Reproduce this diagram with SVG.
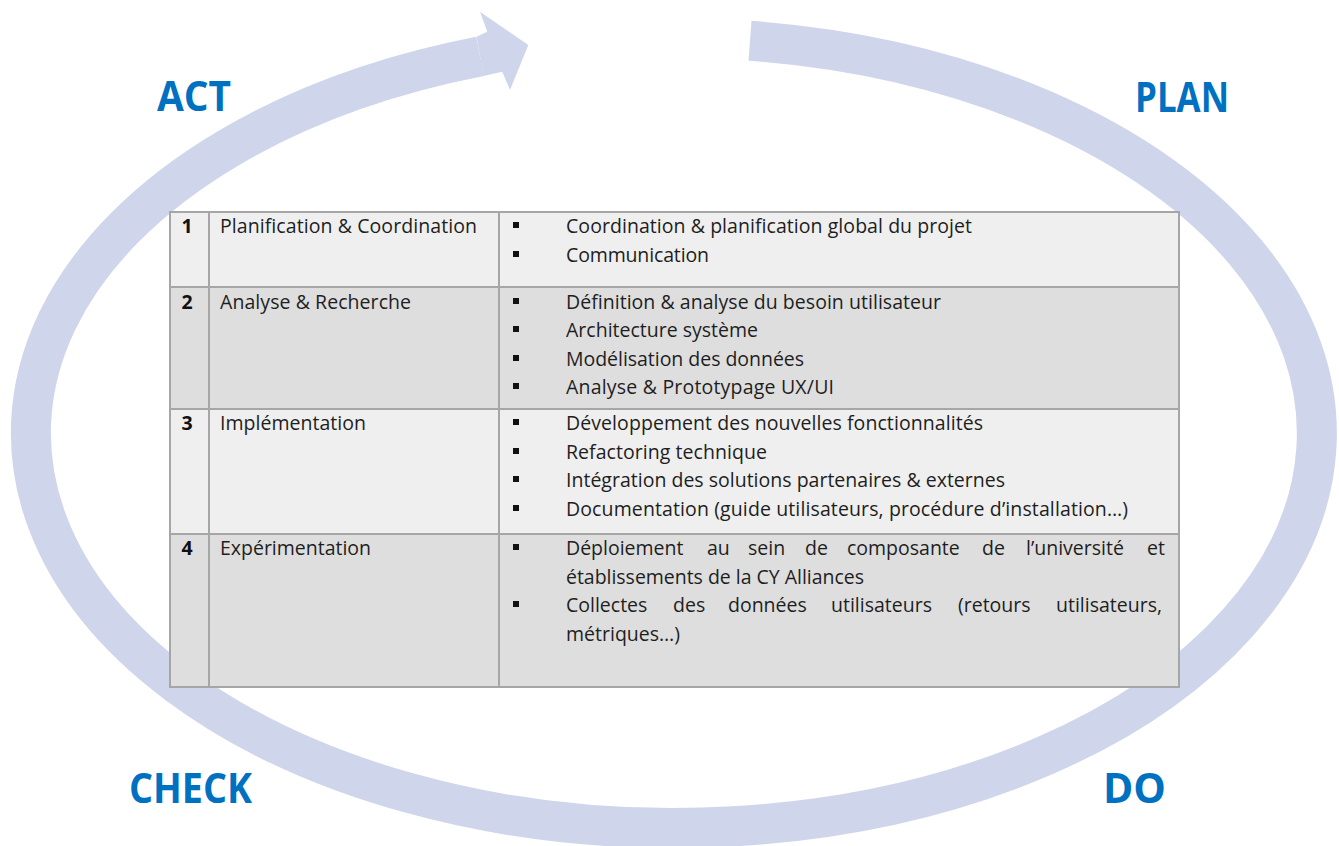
<svg xmlns="http://www.w3.org/2000/svg" width="1339" height="846" viewBox="0 0 1339 846">
<style>
.ring{fill:none;stroke:#cfd5eb;stroke-width:40;stroke-linecap:butt}
.head{fill:#cfd5eb}
.lbl{font-family:"Open Sans","Liberation Sans",sans-serif;font-weight:700;font-size:41px;fill:#0070c0}
.cell1{fill:#efefef;stroke:#a6a6a6;stroke-width:2}
.cell2{fill:#dedede;stroke:#a6a6a6;stroke-width:2}
.t{font-family:"Open Sans","Liberation Sans",sans-serif;font-size:19.5px;fill:#1e1e1e}
.n{font-family:"Open Sans","Liberation Sans",sans-serif;font-size:19.5px;font-weight:700;fill:#111;text-anchor:middle}
.b{fill:#111}
</style>
<g id="connectors">
<path class="ring" d="M 750 40.8 A 643 395 0 1 1 480 56.4"/>
<polygon class="head" points="476.5,36.7 487.3,31.7 480,11.7 528.3,45 510,90 502.3,71.7 483.5,76.1"/>
</g>
<g id="label-act"><text class="lbl" x="157" y="111" textLength="74" lengthAdjust="spacingAndGlyphs">ACT</text></g>
<g id="label-plan"><text class="lbl" x="1135" y="112" textLength="94" lengthAdjust="spacingAndGlyphs">PLAN</text></g>
<g id="label-check"><text class="lbl" x="129" y="803" textLength="123" lengthAdjust="spacingAndGlyphs">CHECK</text></g>
<g id="label-do"><text class="lbl" x="1103" y="803" textLength="63" lengthAdjust="spacingAndGlyphs">DO</text></g>
<g id="table">
<g id="row1">
<rect class="cell1" x="170" y="212" width="39" height="75"/>
<rect class="cell1" x="209" y="212" width="290" height="75"/>
<rect class="cell1" x="499" y="212" width="680" height="75"/>
<text class="n" x="187" y="233">1</text>
<text class="t" x="220" y="233" textLength="257">Planification &amp; Coordination</text>
<rect class="b" x="513" y="222" width="6" height="6"/>
<text class="t" x="566" y="233" textLength="406">Coordination &amp; planification global du projet</text>
<rect class="b" x="513" y="251" width="6" height="6"/>
<text class="t" x="566" y="262" textLength="143">Communication</text>
</g>
<g id="row2">
<rect class="cell2" x="170" y="287" width="39" height="122"/>
<rect class="cell2" x="209" y="287" width="290" height="122"/>
<rect class="cell2" x="499" y="287" width="680" height="122"/>
<text class="n" x="187" y="309">2</text>
<text class="t" x="220" y="309" textLength="191">Analyse &amp; Recherche</text>
<rect class="b" x="513" y="298" width="6" height="6"/>
<text class="t" x="566" y="309" textLength="375">Définition &amp; analyse du besoin utilisateur</text>
<rect class="b" x="513" y="326" width="6" height="6"/>
<text class="t" x="566" y="337" textLength="192">Architecture système</text>
<rect class="b" x="513" y="355" width="6" height="6"/>
<text class="t" x="566" y="366" textLength="238">Modélisation des données</text>
<rect class="b" x="513" y="383" width="6" height="6"/>
<text class="t" x="566" y="394" textLength="268">Analyse &amp; Prototypage UX/UI</text>
</g>
<g id="row3">
<rect class="cell1" x="170" y="409" width="39" height="125"/>
<rect class="cell1" x="209" y="409" width="290" height="125"/>
<rect class="cell1" x="499" y="409" width="680" height="125"/>
<text class="n" x="187" y="430">3</text>
<text class="t" x="220" y="430" textLength="146">Implémentation</text>
<rect class="b" x="513" y="419" width="6" height="6"/>
<text class="t" x="566" y="430" textLength="417">Développement des nouvelles fonctionnalités</text>
<rect class="b" x="513" y="448" width="6" height="6"/>
<text class="t" x="566" y="459" textLength="201">Refactoring technique</text>
<rect class="b" x="513" y="476" width="6" height="6"/>
<text class="t" x="566" y="487" textLength="439">Intégration des solutions partenaires &amp; externes</text>
<rect class="b" x="513" y="505" width="6" height="6"/>
<text class="t" x="566" y="516" textLength="562">Documentation (guide utilisateurs, procédure d’installation…)</text>
</g>
<g id="row4">
<rect class="cell2" x="170" y="534" width="39" height="153"/>
<rect class="cell2" x="209" y="534" width="290" height="153"/>
<rect class="cell2" x="499" y="534" width="680" height="153"/>
<text class="n" x="187" y="555">4</text>
<text class="t" x="220" y="555" textLength="151">Expérimentation</text>
<rect class="b" x="513" y="544" width="6" height="6"/>
<text class="t" y="555"><tspan x="566">Déploiement</tspan> <tspan x="707">au</tspan> <tspan x="748">sein</tspan> <tspan x="805">de</tspan> <tspan x="847">composante</tspan> <tspan x="982">de</tspan> <tspan x="1026">l’université</tspan> <tspan x="1147">et</tspan></text>
<text class="t" x="566" y="584" textLength="298">établissements de la CY Alliances</text>
<rect class="b" x="513" y="601" width="6" height="6"/>
<text class="t" y="612"><tspan x="566">Collectes</tspan> <tspan x="673">des</tspan> <tspan x="728">données</tspan> <tspan x="831">utilisateurs</tspan> <tspan x="958">(retours</tspan> <tspan x="1056">utilisateurs,</tspan></text>
<text class="t" x="566" y="641" textLength="114">métriques…)</text>
</g>
</g>
</svg>
